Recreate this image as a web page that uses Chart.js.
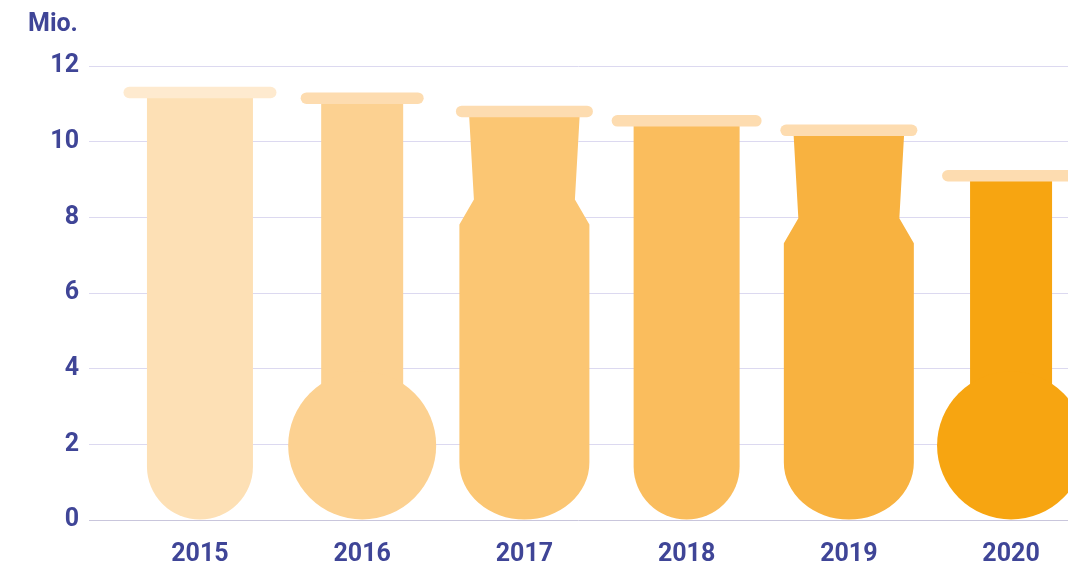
<!DOCTYPE html>
<html>
<head>
<meta charset="utf-8">
<script src="https://cdn.jsdelivr.net/npm/chart.js@4/dist/chart.umd.min.js"></script>
<style>
  html, body { margin: 0; padding: 0; background: #fff; }
  #wrap { width: 1068px; height: 564px; }
</style>
</head>
<body>
<div id="wrap"><canvas id="mainChart"></canvas></div>
<script>
// --- DATOS ---
const years = ['2015', '2016', '2017', '2018', '2019', '2020'];
const values = [11.3, 11.15, 10.8, 10.55, 10.3, 9.1];   // Mio.
const yTicks = [0, 2, 4, 6, 8, 10, 12];
const unitLabel = 'Mio.';

// --- ESTILO ---
const bodyColors = ['#fde0b5', '#fcd191', '#fbc673', '#fabd5d', '#f8b240', '#f7a511'];
const capColors  = ['#feeacf', '#fddcb0', '#fddcb0', '#fddcb0', '#fddcb0', '#fddcb0'];
const shapes     = ['tube', 'flask', 'cone', 'tube', 'cone', 'flask'];
const capWidths  = [153, 123, 137, 150, 137, 138];
const textColor = '#3f4597';
const fontFamily = 'Roboto, "Noto Sans", sans-serif';

// --- FORMAS (tubo, matraz, erlenmeyer) ---
function drawTube(ctx, x, top, base) {
    const r = 53;
    ctx.beginPath();
    ctx.moveTo(x - r, top);
    ctx.lineTo(x + r, top);
    ctx.lineTo(x + r, base - r);
    ctx.arc(x, base - r, r, 0, Math.PI);
    ctx.closePath();
    ctx.fill();
}

function drawFlask(ctx, x, top, base) {
    const R = 74, neck = 41;
    ctx.fillRect(x - neck, top, neck * 2, base - R - top);
    ctx.beginPath();
    ctx.arc(x, base - R, R, 0, Math.PI * 2);
    ctx.fill();
}

function drawCone(ctx, x, top, base) {
    const neckTop = 55.5, neckBot = 50.5, body = 65, ry = 57;
    const neckY = top + 88, shoulderY = neckY + 25;
    ctx.beginPath();
    ctx.moveTo(x - neckTop, top);
    ctx.lineTo(x + neckTop, top);
    ctx.lineTo(x + neckBot, neckY);
    ctx.lineTo(x + body, shoulderY);
    ctx.lineTo(x + body, base - ry);
    ctx.ellipse(x, base - ry, body, ry, 0, 0, Math.PI);
    ctx.lineTo(x - body, shoulderY);
    ctx.lineTo(x - neckBot, neckY);
    ctx.closePath();
    ctx.fill();
}

const drawers = { tube: drawTube, flask: drawFlask, cone: drawCone };

const labPlugin = {
    id: 'labGlass',
    afterDatasetsDraw(chart) {
        const ctx = chart.ctx;
        const meta = chart.getDatasetMeta(0);
        ctx.save();
        meta.data.forEach((bar, i) => {
            const { x, y, base } = bar.getProps(['x', 'y', 'base'], true);
            ctx.fillStyle = bodyColors[i];
            drawers[shapes[i]](ctx, x, y, base);
            // tapón
            const cw = capWidths[i], h = 11.5;
            ctx.fillStyle = capColors[i];
            ctx.beginPath();
            ctx.roundRect(x - cw / 2, y - h / 2, cw, h, h / 2);
            ctx.fill();
        });
        ctx.restore();
    },
    afterDraw(chart) {
        const ctx = chart.ctx;
        const yScale = chart.scales.y;
        ctx.save();
        ctx.fillStyle = textColor;
        ctx.font = 'bold 25px ' + fontFamily;
        ctx.textAlign = 'left';
        ctx.textBaseline = 'middle';
        ctx.fillText(unitLabel, 28, yScale.top - 41);
        ctx.restore();
    }
};

const ctx = document.getElementById('mainChart').getContext('2d');
const myChart = new Chart(ctx, {
    type: 'bar',
    data: {
        datasets: [{
            data: values.map((v, i) => ({ x: i, y: v })),
            backgroundColor: 'rgba(0,0,0,0)',
            barThickness: 106
        }]
    },
    options: {
        responsive: true,
        maintainAspectRatio: false,
        animation: false,
        layout: { padding: { top: 66, right: 0, bottom: 0, left: 0 } },
        plugins: {
            legend: { display: false },
            tooltip: { enabled: false }
        },
        scales: {
            x: {
                type: 'linear',
                offset: false,
                min: -0.684,
                max: 5.351,
                afterBuildTicks: (axis) => { axis.ticks = years.map((_, i) => ({ value: i })); },
                afterFit: (axis) => { axis.height = 44; },
                ticks: {
                    autoSkip: false,
                    maxRotation: 0,
                    padding: 12,
                    color: textColor,
                    font: { family: fontFamily, size: 25, weight: 'bold' },
                    callback: (v) => years[v]
                },
                grid: { display: false },
                border: { display: false }
            },
            y: {
                min: 0,
                max: 12,
                afterBuildTicks: (axis) => { axis.ticks = yTicks.map(v => ({ value: v })); },
                afterFit: (axis) => { axis.width = 89; },
                ticks: {
                    padding: 10,
                    color: textColor,
                    font: { family: fontFamily, size: 25, weight: 'bold' }
                },
                grid: {
                    drawTicks: false,
                    color: (c) => c.tick && c.tick.value === 0 ? '#c9c6dc' : '#dcd9f0',
                    lineWidth: 1
                },
                border: { display: false }
            }
        }
    },
    plugins: [labPlugin]
});
</script>
</body>
</html>
